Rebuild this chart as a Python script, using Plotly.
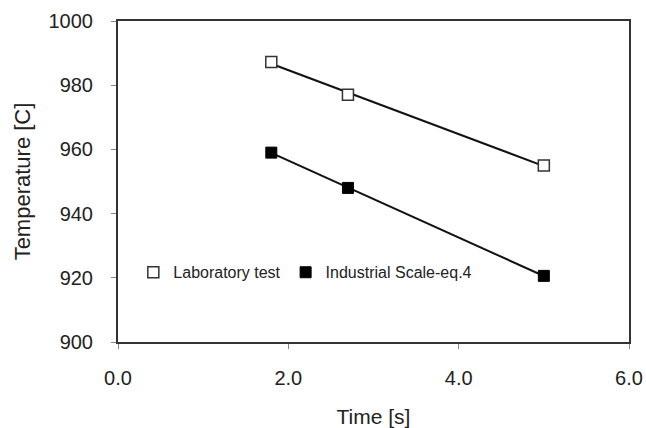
import numpy as np
import plotly.graph_objects as go

time_s = [1.8, 2.7, 5.0]
lab_temp = [987.2, 977.0, 955.0]
ind_temp = [959.0, 948.0, 920.6]
series_names = ["Laboratory test", "Industrial Scale-eq.4"]
x_ticks = [0, 2, 4, 6]
x_tick_labels = ["0.0", "2.0", "4.0", "6.0"]
y_ticks = [900, 920, 940, 960, 980, 1000]

FONT = "Arial, Liberation Sans, Helvetica, sans-serif"
fig = go.Figure()

xs = np.array(time_s)
for temps in (lab_temp, ind_temp):
    k, b = np.polyfit(xs, np.array(temps), 1)
    xl = np.array([xs.min(), xs.max()])
    fig.add_trace(go.Scatter(x=xl, y=k * xl + b, mode="lines",
                             line=dict(color="#111111", width=2),
                             showlegend=False, hoverinfo="skip"))

fig.add_trace(go.Scatter(x=time_s, y=lab_temp, mode="markers", name=series_names[0],
                         marker=dict(symbol="square", size=11, color="white",
                                     line=dict(color="#333333", width=1.5))))
fig.add_trace(go.Scatter(x=time_s, y=ind_temp, mode="markers", name=series_names[1],
                         marker=dict(symbol="square", size=11, color="black",
                                     line=dict(color="black", width=1))))

fig.update_layout(
    width=646, height=428,
    margin=dict(l=118, r=17, t=21, b=86),
    paper_bgcolor="white", plot_bgcolor="white",
    font=dict(family=FONT, color="#222222", size=20),
    legend=dict(orientation="h", x=0.03, y=0.217, xanchor="left", yanchor="middle",
                bgcolor="rgba(0,0,0,0)", font=dict(size=16, family=FONT, color="#222222"),
                itemwidth=30, tracegroupgap=0),
    xaxis=dict(range=[0, 6], tickvals=x_ticks, ticktext=x_tick_labels, automargin=False,
               showgrid=False, zeroline=False, showline=True, linecolor="#333333",
               linewidth=2, mirror=True, ticks="outside", ticklen=5, tickcolor="#888888",
               tickfont=dict(size=20), ticklabelstandoff=12,
               title=dict(text="Time [s]", font=dict(size=21), standoff=25)),
    yaxis=dict(range=[900, 1000], tickvals=y_ticks, automargin=False,
               showgrid=False, zeroline=False, showline=True, linecolor="#333333",
               linewidth=2, mirror=True, ticks="outside", ticklen=5, tickcolor="#888888",
               tickfont=dict(size=20), ticklabelstandoff=14,
               title=dict(text="Temperature [C]", font=dict(size=22), standoff=12)),
)

fig.write_html("out.html")
